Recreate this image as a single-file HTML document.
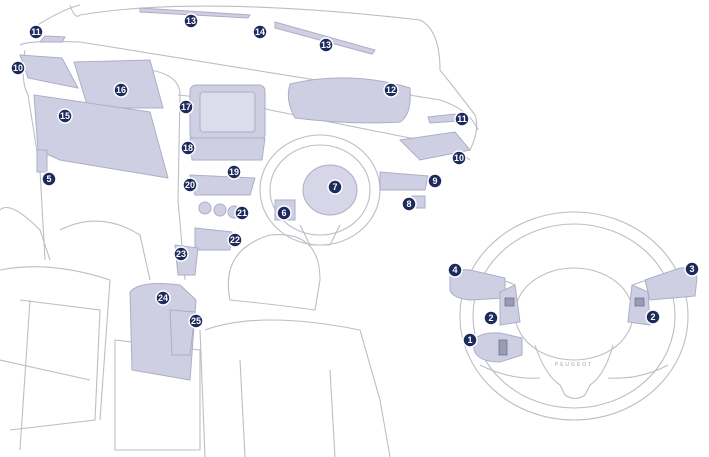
<!DOCTYPE html>
<html><head><style>
html,body{margin:0;padding:0;background:#fff;}
svg{display:block}
.l{fill:none;stroke:#bdbdc7;stroke-width:1.1}
.f{fill:#cfcfe4;stroke:#adadc6;stroke-width:1}
.d{fill:#9a9cb4;stroke:#6e7090;stroke-width:.8}
text{font-family:"Liberation Sans",sans-serif;font-weight:bold;font-size:9px;fill:#fff;text-anchor:middle}
</style></head><body>
<svg width="709" height="457" viewBox="0 0 709 457">
<path class="l" d="M30 30 Q60 10 80 5 M70 5 Q75 20 80 15 Q200 -5 420 20 Q440 30 440 70 Q460 95 475 115 Q480 130 470 150"/>
<path class="l" d="M20 45 Q30 40 80 42 Q250 70 440 100 Q470 110 478 130"/>
<path class="l" d="M25 50 Q20 80 28 95 L40 170 L45 260"/>
<path class="l" d="M150 70 Q180 75 180 95 L178 200 L185 280"/>
<path class="l" d="M178 95 Q230 100 270 110 L420 140 Q450 145 470 160"/>
<path class="l" d="M0 210 Q10 200 40 230 L50 260 M0 270 Q50 260 110 280 L100 420 M0 360 L90 380"/>
<path class="l" d="M60 230 Q100 210 140 235 L150 280"/>
<path class="l" d="M230 300 Q220 250 270 235 Q320 230 320 280 L315 310 Q280 305 230 300 Z"/>
<path class="l" d="M205 330 Q260 310 360 330 L380 400 L390 457 M200 330 L205 457 M240 360 L245 457 M330 370 L335 457"/>
<path class="l" d="M20 300 L100 310 L95 420 L10 430 M30 300 L20 450"/>
<path class="l" d="M115 340 L200 350 L200 450 L115 450 Z"/>
<ellipse class="l" cx="320" cy="190" rx="60" ry="55"/>
<ellipse class="l" cx="320" cy="190" rx="50" ry="45"/>
<ellipse class="f" cx="330" cy="190" rx="27" ry="25" style="fill:#d6d6e8"/>
<path class="l" d="M300 225 L310 245 L330 245 L340 225"/>
<!-- big wheel right -->
<ellipse class="l" cx="574" cy="316" rx="114" ry="104"/>
<ellipse class="l" cx="574" cy="316" rx="101" ry="92"/>
<ellipse class="l" cx="574" cy="314" rx="59" ry="46"/>
<path class="l" d="M535 345 Q545 375 560 385 L565 395 Q575 402 585 395 L590 385 Q605 375 613 345"/>
<path class="l" d="M470 280 Q495 275 515 285 M633 285 Q655 275 680 280 M480 365 Q510 380 540 378 M608 378 Q640 380 668 365"/>
<text x="574" y="366" style="fill:#c0c0c8;font-size:5px;letter-spacing:2px">PEUGEOT</text>
<path class="f" d="M450 276 Q455 268 470 270 L505 278 L505 298 L470 300 Q452 298 450 290 Z"/>
<path class="f" d="M645 280 L680 268 Q696 266 697 278 L695 296 L650 300 Z"/>
<path class="f" d="M500 292 L515 285 L520 322 L500 325 Z"/>
<path class="f" d="M632 285 L648 292 L650 325 L628 322 Z"/>
<rect class="d" x="505" y="298" width="9" height="8"/>
<rect class="d" x="635" y="298" width="9" height="8"/>
<path class="f" d="M474 340 Q480 332 500 333 L522 338 L522 355 L500 362 Q478 362 474 350 Z"/>
<rect class="d" x="499" y="340" width="8" height="15"/>
<!-- lavender regions -->
<path class="f" d="M74 62 L150 60 L163 108 L88 108 Z"/>
<path class="f" d="M34 95 L150 112 L168 178 L60 160 L38 150 Z"/>
<path class="f" d="M20 55 L62 58 L78 88 L28 78 Z"/>
<path class="f" d="M400 140 L455 132 L470 150 L420 160 Z"/>
<path class="f" d="M380 172 L428 176 L425 190 L380 190 Z"/>
<path class="f" d="M37 150 L47 150 L47 172 L37 172 Z"/>
<path class="f" d="M412 196 L425 196 L425 208 L412 208 Z"/>
<path class="f" d="M45 36 L65 37 L62 42 L40 42 Z"/>
<path class="f" d="M428 117 L455 114 L458 121 L430 123 Z"/>
<path class="f" d="M140 8 L250 15 L248 18 L140 12 Z"/>
<path class="f" d="M275 22 L375 50 L372 54 L275 28 Z"/>
<rect class="f" x="190" y="85" width="75" height="55" rx="6"/>
<rect class="f" x="200" y="92" width="55" height="40" rx="3" style="fill:#dcdcec"/>
<path class="f" d="M290 84 Q350 70 410 88 Q412 115 400 122 Q350 125 295 118 Q285 100 290 84 Z"/>
<path class="f" d="M190 138 L265 138 L262 160 L192 160 Z"/>
<path class="f" d="M190 175 L255 178 L250 195 L195 195 Z"/>
<circle class="f" cx="205" cy="208" r="6"/><circle class="f" cx="220" cy="210" r="6"/><circle class="f" cx="234" cy="212" r="6"/>
<path class="f" d="M195 228 L232 232 L230 250 L195 250 Z"/>
<path class="f" d="M175 245 L198 248 L195 275 L178 275 Z"/>
<path class="f" d="M130 292 Q140 280 180 285 L196 300 L190 380 L132 370 Z"/>
<path class="f" d="M170 310 L195 312 L190 355 L172 355 Z"/>
<path class="f" d="M275 200 L295 200 L295 220 L275 220 Z"/>
<g stroke="#fff" stroke-width="1.5" fill="#1c2a5c">
<circle cx="36" cy="32" r="7"/><circle cx="191" cy="21" r="7"/><circle cx="260" cy="32" r="7"/><circle cx="326" cy="45" r="7"/>
<circle cx="18" cy="68" r="7"/><circle cx="121" cy="90" r="7"/><circle cx="391" cy="90" r="7"/><circle cx="186" cy="107" r="7"/>
<circle cx="65" cy="116" r="7"/><circle cx="462" cy="119" r="7"/><circle cx="188" cy="148" r="7"/><circle cx="459" cy="158" r="7"/>
<circle cx="234" cy="172" r="7"/><circle cx="49" cy="179" r="7"/><circle cx="335" cy="187" r="7"/><circle cx="435" cy="181" r="7"/>
<circle cx="190" cy="185" r="7"/><circle cx="409" cy="204" r="7"/><circle cx="284" cy="213" r="7"/><circle cx="242" cy="213" r="7"/>
<circle cx="235" cy="240" r="7"/><circle cx="181" cy="254" r="7"/><circle cx="455" cy="270" r="7"/><circle cx="692" cy="269" r="7"/>
<circle cx="163" cy="298" r="7"/><circle cx="491" cy="318" r="7"/><circle cx="653" cy="317" r="7"/><circle cx="196" cy="321" r="7"/>
<circle cx="470" cy="340" r="7"/>
</g>
<g>
<text x="36" y="35">11</text><text x="191" y="24">13</text><text x="260" y="35">14</text><text x="326" y="48">13</text>
<text x="18" y="71">10</text><text x="121" y="93">16</text><text x="391" y="93">12</text><text x="186" y="110">17</text>
<text x="65" y="119">15</text><text x="462" y="122">11</text><text x="188" y="151">18</text><text x="459" y="161">10</text>
<text x="234" y="175">19</text><text x="49" y="182">5</text><text x="335" y="190">7</text><text x="435" y="184">9</text>
<text x="190" y="188">20</text><text x="409" y="207">8</text><text x="284" y="216">6</text><text x="242" y="216">21</text>
<text x="235" y="243">22</text><text x="181" y="257">23</text><text x="455" y="273">4</text><text x="692" y="272">3</text>
<text x="163" y="301">24</text><text x="491" y="321">2</text><text x="653" y="320">2</text><text x="196" y="324">25</text>
<text x="470" y="343">1</text>
</g>
</svg>
</body></html>
